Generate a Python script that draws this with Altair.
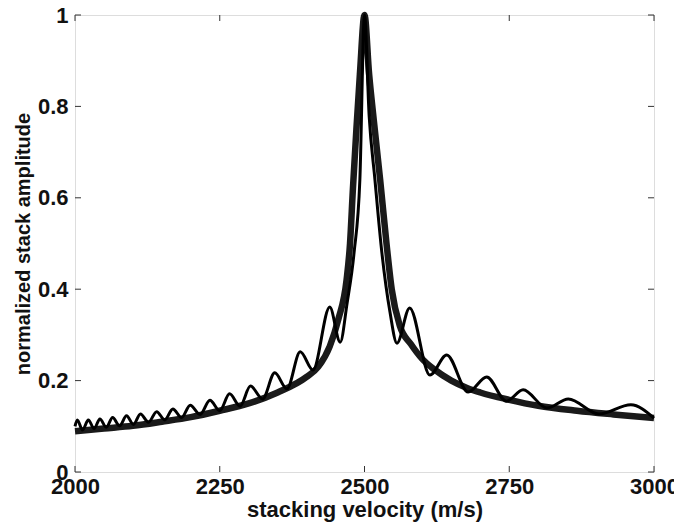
import altair as alt
import pandas as pd

# smooth (thick) stack-amplitude curve
smooth_v = [2000, 2050, 2100, 2150, 2200, 2250, 2300, 2350, 2400, 2420, 2440, 2455, 2469,
            2475, 2480, 2486, 2492, 2500, 2508, 2516, 2527, 2538, 2547, 2561, 2580, 2600,
            2620, 2650, 2677, 2700, 2750, 2800, 2867, 2930, 3000]
smooth_a = [0.089, 0.095, 0.101, 0.110, 0.120, 0.134, 0.150, 0.174, 0.208, 0.230, 0.275,
            0.335, 0.420, 0.500, 0.620, 0.750, 0.870, 1.000, 0.870, 0.770, 0.640, 0.500,
            0.400, 0.320, 0.280, 0.247, 0.225, 0.200, 0.184, 0.174, 0.158, 0.145, 0.134,
            0.126, 0.118]

# oscillating (thin) curve: troughs and peaks
osc_v = [2000, 2004, 2013, 2023, 2033, 2043, 2054, 2065, 2077, 2089, 2101, 2113, 2127,
         2141, 2155, 2169, 2184, 2199, 2216, 2233, 2250, 2267, 2285, 2303, 2324, 2345,
         2366, 2389, 2411, 2440, 2458, 2470, 2482, 2492, 2500, 2508, 2518, 2530, 2544,
         2556, 2578, 2613, 2642, 2679, 2711, 2745, 2774, 2815, 2852, 2905, 2960, 3000]
osc_a = [0.100, 0.114, 0.092, 0.114, 0.095, 0.116, 0.098, 0.119, 0.101, 0.123, 0.104,
         0.127, 0.109, 0.132, 0.114, 0.138, 0.119, 0.146, 0.126, 0.157, 0.134, 0.171,
         0.144, 0.188, 0.160, 0.217, 0.182, 0.263, 0.223, 0.361, 0.284, 0.370, 0.480,
         0.640, 1.000, 0.780, 0.640, 0.480, 0.350, 0.282, 0.359, 0.212, 0.256, 0.175,
         0.208, 0.155, 0.180, 0.140, 0.160, 0.127, 0.147, 0.118]

x_ticks = [2000, 2250, 2500, 2750, 3000]
y_ticks = [0, 0.2, 0.4, 0.6, 0.8, 1]

W, H = 579, 457
font = "Liberation Sans"

smooth_df = pd.DataFrame({"v": smooth_v, "a": smooth_a})
osc_df = pd.DataFrame({"v": osc_v, "a": osc_a})
xt_df = pd.DataFrame({"t": x_ticks})
yt_df = pd.DataFrame({"t": y_ticks})

xs = alt.Scale(domain=[2000, 3000], nice=False)
ys = alt.Scale(domain=[0, 1], nice=False)

x_axis = alt.Axis(values=x_ticks, format="d", title="stacking velocity (m/s)", grid=False,
                  ticks=False, domain=False, labelFontSize=22, labelFontWeight="bold",
                  labelPadding=4, titleFontSize=22, titleFontWeight="bold", titlePadding=2,
                  labelFont=font, titleFont=font, labelColor="#111", titleColor="#111",
                  labelFlush=False)
y_axis = alt.Axis(values=y_ticks, title="normalized stack amplitude", grid=False,
                  ticks=False, domain=False, labelFontSize=22, labelFontWeight="bold",
                  labelPadding=7, titleFontSize=20, titleFontWeight="bold", titlePadding=4,
                  labelFont=font, titleFont=font, labelColor="#111", titleColor="#111",
                  labelFlush=False,
                  labelExpr="datum.value == 0 ? '0' : datum.value == 1 ? '1' : format(datum.value, '.1f')")

thick = alt.Chart(smooth_df).mark_line(color="#1a1a1a", strokeWidth=6.5, interpolate="monotone").encode(
    x=alt.X("v:Q", scale=xs, axis=x_axis),
    y=alt.Y("a:Q", scale=ys, axis=y_axis),
)
thin = alt.Chart(osc_df).mark_line(color="#000000", strokeWidth=3, interpolate="monotone").encode(
    x=alt.X("v:Q", scale=xs),
    y=alt.Y("a:Q", scale=ys),
)

tick_len = 6
xt_bot = alt.Chart(xt_df).mark_rule(color="#333").encode(
    x=alt.X("t:Q", scale=xs), y=alt.value(H), y2=alt.value(H - tick_len))
xt_top = alt.Chart(xt_df).mark_rule(color="#333").encode(
    x=alt.X("t:Q", scale=xs), y=alt.value(0), y2=alt.value(tick_len))
yt_left = alt.Chart(yt_df).mark_rule(color="#333").encode(
    y=alt.Y("t:Q", scale=ys), x=alt.value(0), x2=alt.value(tick_len))
yt_right = alt.Chart(yt_df).mark_rule(color="#333").encode(
    y=alt.Y("t:Q", scale=ys), x=alt.value(W), x2=alt.value(W - tick_len))

chart = alt.layer(xt_bot, xt_top, yt_left, yt_right, thick, thin).properties(
    width=W, height=H,
    autosize=alt.AutoSizeParams(type="none"),
    padding={"left": 67, "top": 7, "right": 20, "bottom": 60},
).configure_view(stroke="#333", strokeWidth=1.5).configure(background="white")

chart.save("out.html", embed_options={"renderer": "svg", "actions": False})
